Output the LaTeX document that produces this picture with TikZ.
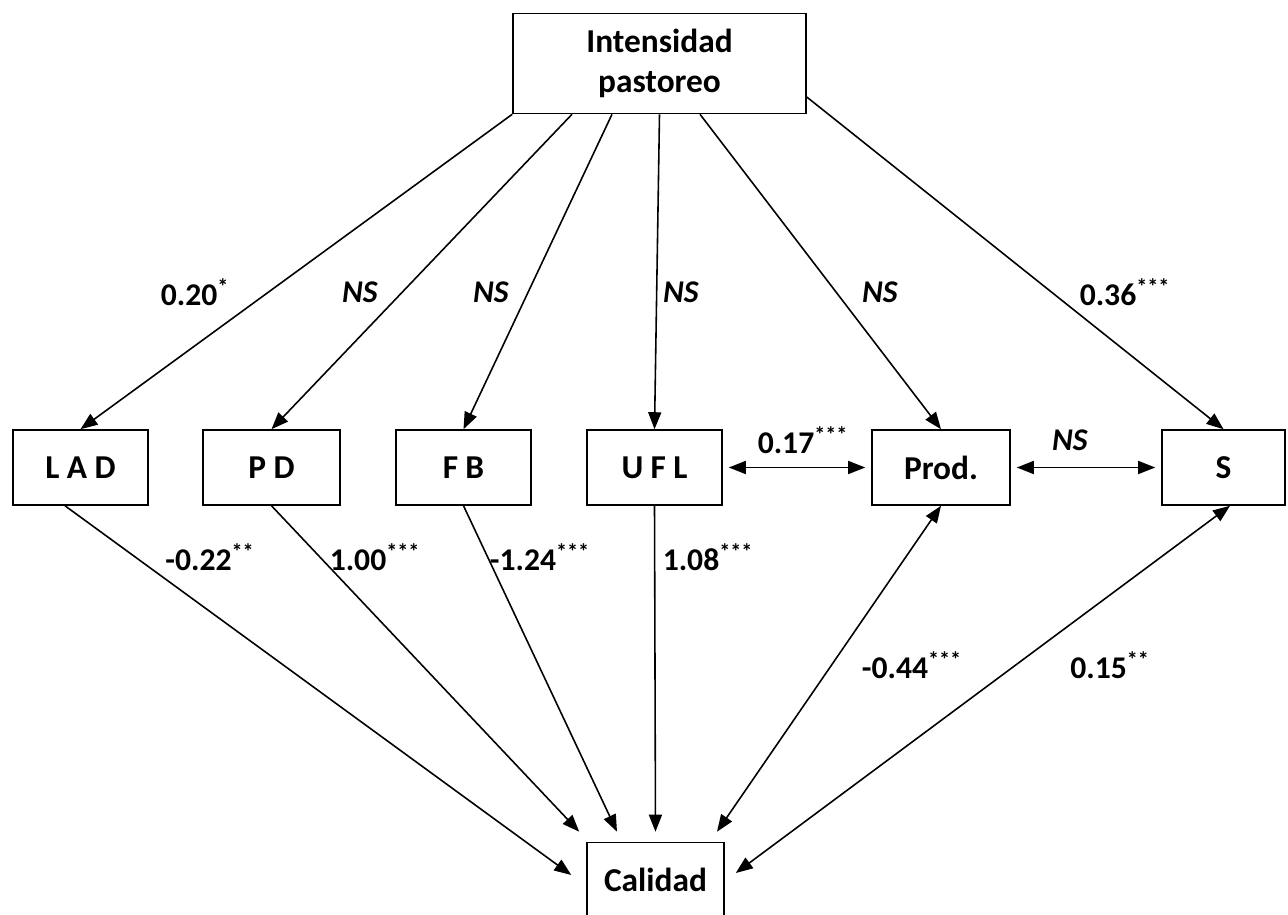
\documentclass[tikz,border=0pt]{standalone}
\usepackage{fontspec}
\setmainfont{Carlito}
\usetikzlibrary{arrows.meta,calc}

\newcommand{\ls}{\hspace{.22em}}

\tikzset{
    box/.style={draw, line width=0.9pt, minimum height=1.5cm, inner sep=2pt,
            align=center, font=\fontsize{19}{23}\selectfont\bfseries},
    arr/.style={-{Triangle[length=0.34cm,width=0.26cm]}, line width=0.9pt},
    darr/.style={{Triangle[length=0.34cm,width=0.26cm]}-{Triangle[length=0.34cm,width=0.26cm]}, line width=0.9pt},
    coef/.style={font=\fontsize{18}{22}\selectfont\bfseries},
}

\begin{document}
\begin{tikzpicture}[x=0.02cm,y=-0.02cm]
        \useasboundingbox (0,0) rectangle (1288,915);

        % boxes
        \node[box, minimum width=5.86cm, minimum height=2cm] (pastoreo) at (659.5,63.5) {Intensidad\\pastoreo};
        \node[box, minimum width=2.7cm] (lad) at (80.5,467.5) {L\ls A\ls D};
        \node[box, minimum width=2.74cm] (pd) at (271.5,467.5) {P\ls D};
        \node[box, minimum width=2.7cm] (fb) at (463.5,467.5) {F\ls B};
        \node[box, minimum width=2.7cm] (ufl) at (654.5,467.5) {U\ls F\ls L};
        \node[box, minimum width=2.76cm] (prod) at (941,467.5) {Prod.};
        \node[box, minimum width=2.46cm] (s) at (1223.5,467.5) {S};
        \node[box, minimum width=2.74cm] (calidad) at (655.5,880) {Calidad};

        % grazing intensity -> variables
        \draw[arr] (pastoreo.south west) -- (lad.north);
        \draw[arr] ($(pastoreo.south)+(-87.5,0)$) -- (pd.north);
        \draw[arr] ($(pastoreo.south)+(-47.5,0)$) -- (fb.north);
        \draw[arr] (pastoreo.south) -- (ufl.north);
        \draw[arr] ($(pastoreo.south)+(40.5,0)$) -- (prod.north);
        \draw[arr] ($(pastoreo.east)+(0,33.5)$) -- (s.north);

        \node[coef] at (195,292) {0.20\textsuperscript{*}};
        \node[coef] at (360,292) {\textit{NS}};
        \node[coef] at (491,292) {\textit{NS}};
        \node[coef] at (681,292) {\textit{NS}};
        \node[coef] at (880,292) {\textit{NS}};
        \node[coef] at (1125,292) {0.36\textsuperscript{***}};

        % correlations between variables
        \draw[darr] ($(ufl.east)+(6,0)$) -- ($(prod.west)+(-6,0)$);
        \draw[darr] ($(prod.east)+(6,0)$) -- ($(s.west)+(-6,0)$);
        \node[coef] at (803,440) {0.17\textsuperscript{***}};
        \node[coef] at (1070,440) {\textit{NS}};

        % variables -> quality
        \draw[arr] ($(lad.south)+(-15.5,0)$) -- ($(calidad.west)+(-15,-5)$);
        \draw[arr] (pd.south) -- ($(calidad.north west)+(-7,-10)$);
        \draw[arr] (fb.south) -- ($(calidad.north)+(-38.5,-10)$);
        \draw[arr] (ufl.south) -- ($(calidad.north)+(0,-10)$);
        \draw[darr] (prod.south) -- ($(calidad.north)+(61.5,-10)$);
        \draw[darr] ($(s.south)+(6.5,0)$) -- ($(calidad.east)+(11,-7)$);

        \node[coef] at (210,557) {-0.22\textsuperscript{**}};
        \node[coef] at (375,557) {1.00\textsuperscript{***}};
        \node[coef] at (540,557) {-1.24\textsuperscript{***}};
        \node[coef] at (708,557) {1.08\textsuperscript{***}};
        \node[coef] at (912,665) {-0.44\textsuperscript{***}};
        \node[coef] at (1110,665) {0.15\textsuperscript{**}};
    \end{tikzpicture}
\end{document}
